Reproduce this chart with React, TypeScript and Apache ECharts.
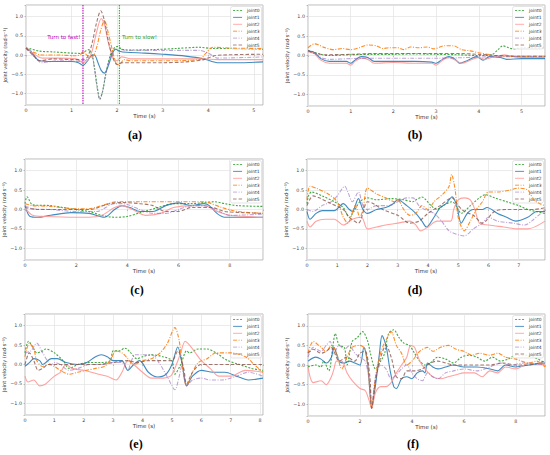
import React, { useEffect, useRef } from 'react';
import * as echarts from 'echarts';

type P = [number, number][];

const jointNames = ['joint0', 'joint1', 'joint2', 'joint3', 'joint4', 'joint5'];
const panelLabels = ['(a)', '(b)', '(c)', '(d)', '(e)', '(f)'];
const panelXMax = [5.2, 5.55, 9.3, 7.87, 8.1, 9.12];
const panelXStep = [1, 1, 2, 1, 1, 2];
const yExtent = [-1.3, 1.3];
const yTickValues = [-1.0, -0.5, 0.0, 0.5, 1.0];
const eventTimes = [1.25, 2.05];
const eventLabels = ['Turn to fast!', 'Turn to slow!'];
const eventLabelValue = 0.46;

// ---------- panel (a)
const a0: P = [[0,0.18],[0.1,0.16],[0.3,0.1],[0.6,0.08],[1.0,0.05],[1.2,0.04],[1.3,0.1],[1.38,0.14],[1.45,0.0],[1.5,-0.3],[1.56,-0.8],[1.62,-1.15],[1.68,-0.95],[1.75,-0.5],[1.85,0.0],[1.95,0.2],[2.02,0.22],[2.1,0.15],[2.3,0.13],[2.8,0.14],[3.3,0.17],[3.8,0.2],[4.1,0.17],[4.5,0.17],[5.2,0.15]];
const a1: P = [[0,0.18],[0.1,0.1],[0.3,-0.15],[0.6,-0.17],[1.0,-0.17],[1.15,-0.2],[1.25,-0.27],[1.35,-0.15],[1.45,0.0],[1.5,0.0],[1.58,-0.2],[1.65,-0.4],[1.72,-0.47],[1.8,-0.3],[1.9,0.05],[1.97,0.15],[2.05,0.1],[2.2,0.07],[2.6,0.05],[3.0,0.02],[3.5,-0.03],[3.9,-0.1],[4.2,-0.2],[4.6,-0.2],[5.2,-0.18]];
const a2: P = [[0,0.18],[0.15,0.05],[0.35,-0.08],[0.7,-0.08],[1.1,-0.1],[1.25,-0.2],[1.35,-0.15],[1.45,0.1],[1.55,0.6],[1.65,0.95],[1.72,0.8],[1.8,0.35],[1.9,-0.05],[2.0,-0.15],[2.1,-0.05],[2.3,-0.1],[3.0,-0.1],[3.9,-0.1],[4.2,-0.12],[5.2,-0.12]];
const a3: P = [[0,0.18],[0.15,0.08],[0.35,0.0],[0.7,0.0],[1.1,-0.02],[1.2,0.02],[1.26,0.1],[1.33,0.0],[1.45,-0.05],[1.55,0.2],[1.63,0.6],[1.72,0.9],[1.8,0.6],[1.9,0.1],[1.97,-0.2],[2.05,-0.25],[2.15,-0.12],[2.3,-0.15],[3.0,-0.15],[3.8,-0.12],[3.95,0.05],[4.1,0.2],[4.5,0.18],[5.2,0.17]];
const a4: P = [[0,0.18],[0.15,0.0],[0.35,-0.2],[0.7,-0.15],[1.0,-0.16],[1.2,-0.17],[1.3,-0.15],[1.4,-0.05],[1.45,-0.05],[1.5,-0.35],[1.56,-0.85],[1.62,-1.15],[1.68,-0.95],[1.75,-0.5],[1.85,-0.05],[1.95,0.15],[2.05,0.15],[2.2,0.12],[3.0,0.12],[3.8,0.12],[4.0,0.05],[4.2,-0.08],[5.2,-0.05]];
const a5: P = [[0,0.18],[0.15,0.0],[0.3,-0.15],[0.6,-0.1],[1.0,-0.12],[1.25,-0.12],[1.35,-0.05],[1.45,0.3],[1.55,0.85],[1.64,1.15],[1.72,0.9],[1.8,0.4],[1.9,-0.05],[2.0,-0.25],[2.1,-0.2],[2.3,-0.2],[3.0,-0.2],[3.5,-0.18],[3.9,-0.12],[4.1,-0.03],[4.3,0.0],[5.2,0.02]];

// ---------- panel (b)
const b0: P = [[0,0.12],[0.15,0.08],[0.3,0.03],[0.5,0.0],[1.0,0.02],[1.5,0.03],[2.0,0.03],[2.5,0.04],[3.0,0.03],[3.5,0.02],[4.0,0.0],[4.3,0.02],[4.45,0.15],[4.56,0.25],[4.7,0.2],[4.8,0.17],[5.0,0.2],[5.55,0.2]];
const b1: P = [[0,0.12],[0.15,0.08],[0.3,-0.08],[0.5,-0.15],[0.9,-0.15],[1.0,-0.2],[1.1,-0.12],[1.25,-0.03],[1.4,-0.05],[1.55,-0.15],[2.0,-0.15],[2.5,-0.15],[2.9,-0.17],[3.0,-0.2],[3.15,-0.1],[3.3,-0.03],[3.45,-0.1],[3.55,-0.2],[3.75,-0.12],[3.95,-0.03],[4.1,-0.12],[4.25,-0.03],[4.5,-0.05],[4.65,-0.1],[5.0,-0.08],[5.55,-0.08]];
const b2: P = [[0,0.1],[0.15,0.05],[0.3,-0.12],[0.5,-0.2],[0.9,-0.2],[1.0,-0.25],[1.1,-0.15],[1.25,-0.07],[1.4,-0.1],[1.55,-0.2],[2.0,-0.18],[2.5,-0.2],[2.9,-0.2],[3.0,-0.25],[3.15,-0.12],[3.3,-0.05],[3.45,-0.12],[3.6,-0.2],[3.8,-0.12],[4.0,-0.05],[4.15,-0.1],[4.3,-0.05],[4.45,-0.02],[4.6,0.02],[4.75,-0.02],[5.0,-0.05],[5.55,-0.05]];
const b3: P = [[0,0.2],[0.15,0.3],[0.4,0.2],[0.6,0.15],[0.8,0.18],[1.0,0.15],[1.2,0.2],[1.4,0.27],[1.6,0.25],[1.75,0.18],[1.9,0.2],[2.1,0.2],[2.25,0.15],[2.4,0.22],[2.6,0.2],[2.8,0.22],[2.95,0.17],[3.2,0.25],[3.4,0.25],[3.6,0.15],[3.8,0.12],[4.0,0.07],[4.2,0.03],[4.4,0.0],[5.0,-0.02],[5.55,-0.02]];
const b4: P = [[0,0.12],[0.15,0.05],[0.3,-0.05],[0.5,-0.1],[1.0,-0.08],[1.5,-0.07],[2.0,-0.07],[2.5,-0.07],[3.0,-0.07],[3.5,-0.06],[4.0,-0.04],[4.5,-0.03],[5.55,-0.03]];
const b5: P = [[0,0.12],[0.2,0.05],[0.4,0.02],[1.0,0.03],[1.5,0.05],[2.0,0.05],[3.0,0.05],[3.6,0.05],[4.0,0.03],[4.4,0.0],[5.0,-0.02],[5.55,-0.02]];

// ---------- panel (c)
const c0: P = [[0,0.15],[0.08,0.33],[0.3,0.12],[1.0,0.1],[1.5,0.05],[2.0,0.0],[2.5,-0.05],[3.0,-0.15],[3.5,-0.2],[4.0,-0.18],[4.5,-0.08],[5.2,0.05],[5.8,0.15],[6.5,0.15],[7.0,0.18],[7.4,0.2],[7.8,0.15],[8.3,0.1],[9.3,0.08]];
const c1: P = [[0,0.1],[0.2,-0.18],[0.5,-0.2],[1.0,-0.15],[1.8,-0.08],[2.5,-0.1],[3.1,-0.2],[3.5,0.0],[3.8,0.1],[4.1,0.05],[4.5,-0.05],[5.0,-0.05],[5.5,0.1],[6.0,0.17],[6.5,0.1],[7.0,0.15],[7.2,0.1],[7.5,-0.1],[7.8,-0.2],[8.5,-0.2],[9.3,-0.2]];
const c2: P = [[0,0.05],[0.3,-0.15],[0.8,-0.18],[2.0,-0.2],[2.5,-0.2],[3.0,-0.15],[3.5,0.05],[3.8,0.1],[4.2,0.0],[4.7,-0.15],[5.3,-0.1],[5.8,0.05],[6.5,0.1],[7.0,0.1],[7.5,-0.05],[8.0,-0.15],[9.3,-0.2]];
const c3: P = [[0,0.15],[0.3,0.1],[1.0,0.08],[2.0,0.02],[2.5,0.02],[3.0,0.1],[3.6,0.2],[4.5,0.2],[5.5,0.2],[6.0,0.2],[7.0,0.2],[7.2,0.17],[7.7,0.05],[8.3,-0.05],[9.3,-0.1]];
const c4: P = [[0,0.1],[0.3,0.02],[1.0,0.0],[2.0,-0.05],[2.8,-0.05],[3.5,0.15],[3.8,0.15],[4.5,0.0],[5.0,-0.1],[5.5,-0.1],[6.0,0.0],[6.5,0.1],[7.0,0.1],[7.6,-0.05],[8.0,-0.15],[9.3,-0.12]];
const c5: P = [[0,0.05],[0.5,0.0],[1.5,0.0],[2.5,0.0],[3.3,0.15],[3.8,0.18],[4.5,0.15],[5.0,0.1],[5.5,-0.05],[6.0,-0.05],[6.5,0.05],[7.3,0.05],[7.8,-0.05],[8.5,-0.08],[9.3,-0.1]];

// ---------- panel (d)
const d0: P = [[0,0.15],[0.05,0.35],[0.15,0.45],[0.5,0.35],[0.9,0.2],[1.2,0.05],[1.4,-0.2],[1.55,-0.05],[1.75,0.2],[2.0,0.3],[2.3,0.25],[2.8,0.28],[3.2,0.25],[3.5,0.2],[3.6,0.25],[3.8,0.32],[4.1,0.1],[4.3,0.0],[4.5,0.1],[4.8,0.2],[5.0,0.0],[5.1,-0.1],[5.4,0.1],[5.7,0.3],[5.9,0.38],[6.2,0.3],[6.6,0.2],[7.0,0.1],[7.3,0.0],[7.87,-0.1]];
const d1: P = [[0,-0.05],[0.1,-0.25],[0.3,-0.1],[0.5,-0.03],[0.9,-0.03],[1.2,0.15],[1.4,0.0],[1.5,-0.05],[1.7,0.28],[1.85,0.0],[2.0,-0.1],[2.3,0.0],[2.6,0.05],[2.85,0.15],[3.0,0.25],[3.3,0.1],[3.6,-0.1],[3.8,-0.3],[3.95,-0.45],[4.2,-0.2],[4.4,0.05],[4.6,0.15],[4.8,0.33],[4.95,0.1],[5.1,-0.35],[5.3,-0.1],[5.5,0.0],[5.8,0.0],[5.95,0.05],[6.3,-0.1],[6.6,-0.2],[6.9,-0.3],[7.3,-0.2],[7.6,-0.05],[7.87,-0.05]];
const d2: P = [[0,-0.3],[0.1,-0.45],[0.3,-0.3],[0.6,-0.25],[0.9,-0.25],[1.2,-0.4],[1.5,-0.25],[1.8,-0.2],[2.0,-0.5],[2.3,-0.45],[2.6,-0.4],[3.0,-0.35],[3.4,-0.3],[3.6,-0.4],[3.75,-0.55],[4.0,-0.45],[4.3,-0.3],[4.75,-0.3],[4.85,0.0],[5.0,0.25],[5.2,0.3],[5.4,0.25],[5.55,0.0],[5.7,-0.35],[6.0,-0.4],[6.5,-0.45],[7.0,-0.5],[7.3,-0.5],[7.87,-0.3]];
const d3: P = [[0,0.25],[0.1,0.6],[0.3,0.55],[0.7,0.4],[1.0,0.2],[1.2,-0.2],[1.35,-0.35],[1.6,0.1],[1.75,-0.2],[1.85,0.0],[2.0,0.55],[2.3,0.4],[2.6,0.3],[2.9,0.2],[3.0,0.25],[3.2,0.0],[3.4,-0.15],[3.6,-0.1],[3.8,0.1],[4.0,0.0],[4.2,0.2],[4.5,0.4],[4.7,0.6],[4.78,0.9],[4.9,0.5],[5.0,-0.2],[5.2,-0.55],[5.4,-0.3],[5.6,0.0],[5.8,0.2],[6.0,0.45],[6.3,0.45],[6.7,0.5],[7.0,0.55],[7.3,0.5],[7.5,0.25],[7.7,0.15],[7.87,0.1]];
const d4: P = [[0,0.0],[0.2,-0.05],[0.5,0.1],[0.8,0.2],[1.0,0.35],[1.25,0.6],[1.35,0.45],[1.5,0.2],[1.7,0.45],[1.85,0.1],[2.0,0.0],[2.3,0.1],[2.7,0.1],[3.0,0.2],[3.3,0.3],[3.5,0.3],[3.7,0.1],[3.9,0.0],[4.2,-0.1],[4.45,-0.3],[4.7,-0.55],[5.0,-0.65],[5.2,-0.68],[5.5,-0.5],[5.8,-0.35],[6.0,-0.2],[6.3,-0.3],[6.8,-0.35],[7.2,-0.4],[7.5,-0.25],[7.87,0.0]];
const d5: P = [[0,0.1],[0.2,0.35],[0.4,0.3],[0.8,0.15],[1.2,0.0],[1.4,-0.2],[1.7,-0.35],[2.0,0.2],[2.2,0.15],[2.5,0.0],[3.0,-0.15],[3.4,-0.35],[3.7,-0.3],[4.0,-0.1],[4.4,0.1],[4.8,0.3],[5.0,0.1],[5.2,-0.05],[5.5,-0.15],[5.8,-0.35],[6.2,-0.05],[6.6,0.0],[7.0,0.0],[7.5,0.0],[7.87,0.05]];

// ---------- panel (e)
const e0: P = [[0,0.3],[0.12,0.6],[0.3,0.4],[0.4,0.3],[0.6,0.35],[0.7,0.4],[1.0,0.3],[1.3,0.1],[1.5,-0.1],[1.8,0.0],[2.2,0.05],[2.6,0.05],[2.9,0.1],[3.0,0.35],[3.2,0.35],[3.4,0.42],[3.6,0.3],[3.8,0.15],[4.0,0.2],[4.3,0.25],[4.7,0.2],[5.0,0.1],[5.1,-0.25],[5.3,0.0],[5.5,0.35],[5.6,0.3],[5.9,0.4],[6.2,0.4],[6.5,0.3],[6.9,0.1],[7.3,0.0],[7.7,-0.1],[8.1,-0.15]];
const e1: P = [[0,-0.05],[0.15,0.05],[0.3,0.15],[0.5,0.1],[0.6,0.0],[0.9,0.15],[1.1,0.15],[1.4,0.05],[1.8,0.0],[2.1,0.05],[2.4,0.2],[2.6,0.25],[2.8,0.2],[3.0,0.1],[3.3,0.1],[3.5,-0.15],[3.7,0.0],[3.9,0.1],[4.2,-0.2],[4.5,-0.32],[4.8,-0.25],[5.0,0.0],[5.2,0.45],[5.35,0.0],[5.5,-0.55],[5.7,-0.3],[6.0,-0.15],[6.4,-0.2],[6.8,-0.2],[7.2,-0.3],[7.6,-0.4],[8.1,-0.35]];
const e2: P = [[0,-0.3],[0.1,-0.45],[0.3,-0.4],[0.5,-0.55],[0.7,-0.5],[1.0,-0.3],[1.2,-0.2],[1.4,0.0],[1.6,-0.1],[2.0,-0.15],[2.5,-0.25],[2.8,-0.3],[3.1,-0.4],[3.3,-0.2],[3.5,0.1],[3.7,0.0],[4.0,-0.2],[4.3,-0.35],[4.7,-0.35],[4.95,-0.3],[5.1,-0.1],[5.3,0.3],[5.45,0.6],[5.6,0.5],[5.8,0.3],[6.0,0.1],[6.3,-0.1],[6.6,-0.3],[7.0,-0.3],[7.5,-0.15],[8.1,-0.2]];
const e3: P = [[0,0.2],[0.15,0.55],[0.3,0.4],[0.4,0.1],[0.6,-0.05],[0.8,0.0],[1.0,-0.05],[1.2,-0.15],[1.5,-0.25],[1.8,-0.2],[2.1,-0.15],[2.4,-0.1],[2.7,-0.05],[2.9,0.1],[3.1,0.35],[3.3,0.3],[3.5,0.15],[3.7,0.0],[4.0,0.1],[4.3,0.15],[4.6,0.3],[4.85,0.55],[5.1,0.95],[5.25,0.6],[5.4,-0.3],[5.5,-0.55],[5.7,-0.2],[5.9,0.05],[6.2,0.15],[6.5,0.3],[7.0,0.3],[7.5,0.2],[7.8,0.0],[8.1,-0.2]];
const e4: P = [[0,0.3],[0.2,0.35],[0.4,0.55],[0.6,0.3],[0.9,0.0],[1.0,0.05],[1.2,0.0],[1.5,-0.15],[1.8,-0.1],[2.2,0.0],[2.6,0.0],[3.0,0.05],[3.3,0.05],[3.5,-0.15],[3.6,0.05],[3.75,0.25],[4.0,0.25],[4.3,0.25],[4.6,0.0],[4.9,-0.4],[5.1,-0.65],[5.25,-0.3],[5.35,0.0],[5.5,-0.55],[5.7,-0.4],[6.0,-0.35],[6.3,-0.4],[6.7,-0.4],[7.2,-0.3],[7.6,-0.2],[8.1,-0.3]];
const e5: P = [[0,0.0],[0.15,0.3],[0.3,0.1],[0.45,-0.15],[0.6,-0.1],[0.8,0.0],[1.2,0.0],[2.0,0.0],[2.5,0.0],[3.0,0.05],[3.5,0.1],[3.8,0.05],[4.2,0.1],[4.7,0.1],[5.0,0.1],[5.2,0.35],[5.4,-0.1],[5.5,-0.5],[5.7,-0.2],[6.0,0.0],[6.5,0.0],[7.0,0.0],[7.5,0.0],[8.1,0.0]];

// ---------- panel (f)
const f0: P = [[0,-0.05],[0.3,0.0],[0.5,-0.05],[0.6,0.1],[0.8,-0.15],[0.95,0.45],[1.05,0.8],[1.2,0.5],[1.4,0.45],[1.5,0.0],[1.7,0.6],[1.9,0.7],[2.1,0.85],[2.3,0.6],[2.4,0.3],[2.6,-0.1],[2.8,0.1],[2.95,0.3],[3.1,0.8],[3.3,0.9],[3.5,0.7],[3.7,0.55],[3.9,0.5],[4.1,0.3],[4.3,0.1],[4.5,0.0],[4.7,0.05],[5.0,0.2],[5.3,0.15],[5.6,0.05],[5.9,0.2],[6.2,0.25],[6.5,0.2],[6.8,0.1],[7.1,0.2],[7.4,0.1],[7.7,0.15],[8.0,0.25],[8.4,0.25],[8.7,0.2],[9.12,0.05]];
const f1: P = [[0,0.1],[0.3,0.2],[0.5,0.15],[0.7,0.05],[0.9,0.2],[1.0,0.45],[1.2,0.1],[1.4,0.05],[1.6,0.1],[1.8,0.05],[2.0,0.0],[2.15,0.45],[2.3,0.0],[2.45,-1.1],[2.6,-0.5],[2.75,0.3],[2.85,0.75],[3.0,0.5],[3.15,-0.1],[3.3,-0.55],[3.4,-0.6],[3.6,-0.35],[3.8,-0.3],[4.0,-0.35],[4.2,-0.2],[4.4,-0.15],[4.5,-0.2],[4.6,0.05],[4.8,-0.05],[5.0,-0.1],[5.3,-0.05],[5.6,0.0],[6.0,-0.05],[6.5,-0.05],[7.0,-0.1],[7.3,-0.15],[7.6,0.0],[8.0,-0.05],[8.5,0.0],[9.12,0.05]];
const f2: P = [[0,-0.05],[0.2,-0.45],[0.5,-0.4],[0.7,-0.5],[0.9,-0.3],[1.0,-0.1],[1.1,0.1],[1.3,0.1],[1.5,-0.2],[1.7,-0.4],[2.0,-0.6],[2.2,-0.65],[2.35,-0.9],[2.45,-1.1],[2.6,-0.7],[2.8,-0.55],[3.0,-0.55],[3.2,-0.45],[3.4,-0.2],[3.6,0.0],[3.8,0.2],[3.95,0.5],[4.1,0.45],[4.3,0.1],[4.5,-0.1],[4.8,-0.3],[5.1,-0.35],[5.4,-0.3],[5.7,-0.25],[6.0,-0.2],[6.4,-0.2],[6.7,-0.3],[7.0,-0.15],[7.3,-0.2],[7.6,-0.05],[8.0,-0.1],[8.5,0.05],[9.12,0.0]];
const f3: P = [[0,0.3],[0.2,0.6],[0.5,0.45],[0.7,0.35],[0.9,0.5],[1.1,0.3],[1.3,-0.1],[1.5,0.2],[1.7,0.45],[2.0,0.5],[2.2,0.4],[2.35,-0.4],[2.45,-1.1],[2.6,-0.3],[2.75,0.2],[2.9,0.5],[3.1,0.75],[3.2,0.85],[3.4,0.5],[3.6,0.3],[3.8,0.0],[4.0,0.1],[4.3,0.35],[4.6,0.45],[4.8,0.35],[5.1,0.45],[5.4,0.5],[5.7,0.4],[6.0,0.35],[6.3,0.25],[6.6,0.3],[7.0,0.25],[7.3,0.3],[7.6,0.2],[8.0,0.15],[8.5,0.05],[8.8,0.1],[9.12,-0.05]];
const f4: P = [[0,0.2],[0.2,0.45],[0.5,0.35],[0.7,0.5],[0.85,0.6],[1.0,0.3],[1.2,0.5],[1.4,0.4],[1.6,0.5],[1.8,0.3],[2.0,0.2],[2.2,0.1],[2.38,-0.5],[2.45,-1.05],[2.6,-0.3],[2.8,0.0],[3.0,-0.1],[3.2,-0.35],[3.4,-0.25],[3.6,-0.1],[3.8,0.0],[4.0,-0.2],[4.2,-0.35],[4.4,-0.4],[4.6,-0.2],[4.8,-0.3],[5.0,-0.35],[5.3,-0.2],[5.6,-0.15],[6.0,-0.1],[6.5,-0.15],[7.0,-0.05],[7.4,0.05],[7.8,0.0],[8.3,0.05],[9.12,0.0]];
const f5: P = [[0,0.3],[0.2,0.4],[0.5,0.3],[0.7,0.35],[0.9,0.45],[1.2,0.1],[1.5,0.2],[1.8,0.1],[2.0,0.3],[2.2,0.35],[2.38,-0.3],[2.45,-1.1],[2.6,-0.4],[2.8,0.2],[3.0,0.5],[3.2,0.2],[3.4,-0.3],[3.6,-0.35],[3.8,-0.15],[4.1,-0.15],[4.4,-0.1],[4.7,0.05],[5.0,0.1],[5.3,0.05],[5.6,0.0],[6.0,0.0],[6.5,0.0],[7.0,0.0],[7.5,0.05],[8.0,0.0],[8.5,0.0],[9.12,0.1]];

const panelData: P[][] = [
  [a0, a1, a2, a3, a4, a5],
  [b0, b1, b2, b3, b4, b5],
  [c0, c1, c2, c3, c4, c5],
  [d0, d1, d2, d3, d4, d5],
  [e0, e1, e2, e3, e4, e5],
  [f0, f1, f2, f3, f4, f5],
];

// ---------- styling (not data)
const grids = [
  { left: 26, top: 5, width: 237, height: 100 },
  { left: 308, top: 5, width: 237, height: 101 },
  { left: 25, top: 159, width: 238, height: 101 },
  { left: 307, top: 159, width: 238, height: 101 },
  { left: 25, top: 314, width: 238, height: 101 },
  { left: 308, top: 314, width: 237, height: 102 },
];
const labelPos = [
  [135, 135], [415, 135], [137, 290], [415, 290], [136, 444], [413, 444],
];
const jointColors = ['#2ca02c', '#1f77b4', '#ff9896', '#ff7f0e', '#9467bd', '#8c564b'];
const jointDash: any[] = [[2, 1.5], 'solid', 'solid', [4, 1.5, 1, 1.5], [4, 1.5, 1, 1.5], [3.5, 2]];
const jointOpacity = [0.9, 0.85, 0.9, 0.9, 0.6, 0.8];
const eventColors = ['#bf00bf', '#2ca02c'];
const eventLineColors = ['#c020c0', '#33bb33'];
const FONT = '"DejaVu Sans", sans-serif';

const yFmt = (v: number) => {
  const hit = yTickValues.find((t) => Math.abs(t - v) < 1e-6);
  if (hit === undefined) return '';
  return (hit === 0 ? '0.0' : hit.toFixed(1)).replace('-', '\u2212');
};
const xFmt = (v: number) => (Math.abs(v - Math.round(v)) < 1e-6 ? String(Math.round(v)) : '');

function panelLabelGraphics() {
  return panelLabels.map((t, i) => ({
    type: 'text',
    id: 'label' + i,
    x: labelPos[i][0],
    y: labelPos[i][1],
    style: {
      text: t,
      fill: '#000',
      font: 'bold 12px "Liberation Serif", serif',
      textAlign: 'center',
      textVerticalAlign: 'middle',
    },
  }));
}

function buildOption() {
  const grid = grids.map((g) => ({
    ...g,
    show: true,
    borderColor: '#a8a8a8',
    borderWidth: 0.8,
    backgroundColor: 'transparent',
    outerBoundsMode: 'none',
    containLabel: false,
  }));
  const xAxis = grids.map((_, i) => ({
    type: 'value',
    gridIndex: i,
    min: 0,
    max: panelXMax[i],
    interval: panelXStep[i],
    name: 'Time (s)',
    nameLocation: 'middle',
    nameGap: 7.5,
    nameTextStyle: { fontSize: 5.5, color: '#333', fontFamily: FONT },
    axisLine: { show: false },
    axisTick: { show: true, length: 1.5, lineStyle: { color: '#999', width: 0.6 } },
    axisLabel: { fontSize: 4.8, color: '#444', margin: 2.5, fontFamily: FONT, formatter: xFmt },
    splitLine: { show: true, lineStyle: { color: '#e3e3e3', width: 0.7 } },
  }));
  const yAxis = grids.map((_, i) => ({
    type: 'value',
    gridIndex: i,
    min: yExtent[0],
    max: yExtent[1],
    splitNumber: 5,
    name: 'Joint velocity (rad\u00b7s\u207b\u00b9)',
    nameLocation: 'middle',
    nameRotate: 90,
    nameGap: 14,
    nameTextStyle: { fontSize: 5, color: '#333', fontFamily: FONT },
    axisLine: { show: false },
    axisTick: { show: true, length: 1.5, lineStyle: { color: '#999', width: 0.6 } },
    axisLabel: { fontSize: 4.8, color: '#444', margin: 3, fontFamily: FONT, formatter: yFmt },
    splitLine: { show: true, lineStyle: { color: '#e3e3e3', width: 0.7 } },
  }));
  const series: any[] = [];
  panelData.forEach((joints, p) => {
    joints.forEach((data, j) => {
      series.push({
        type: 'line',
        name: jointNames[j],
        xAxisIndex: p,
        yAxisIndex: p,
        data,
        symbol: 'none',
        smooth: 0.3,
        silent: true,
        lineStyle: { color: jointColors[j], width: 1.1, type: jointDash[j], opacity: jointOpacity[j] },
        itemStyle: { color: jointColors[j], opacity: jointOpacity[j] },
        z: 3 + j,
      });
    });
  });
  const legend = grids.map((g) => ({
    data: jointNames,
    orient: 'vertical',
    right: 550 - (g.left + g.width) + 1.5,
    top: g.top + 1.5,
    itemWidth: 9,
    itemHeight: 5,
    itemGap: 1.9,
    itemTextGap: 3,
    padding: [1.5, 2, 1.5, 2],
    backgroundColor: 'rgba(255,255,255,0.85)',
    borderColor: '#d8d8d8',
    borderWidth: 0.7,
    borderRadius: 2,
    selectedMode: false,
    itemStyle: { opacity: 0 },
    lineStyle: { width: 0.9 },
    textStyle: { fontSize: 4.4, color: '#333', fontFamily: FONT, lineHeight: 5 },
  }));
  return { animation: false, backgroundColor: '#fff', grid, xAxis, yAxis, series, legend, graphic: panelLabelGraphics() };
}

// event lines and their texts, placed through panel (a)'s own axes
function eventGraphics(chart: echarts.ECharts) {
  const out: any[] = [];
  const yTop = chart.convertToPixel({ yAxisIndex: 0 } as any, yExtent[1]) as number;
  const yBot = chart.convertToPixel({ yAxisIndex: 0 } as any, yExtent[0]) as number;
  const yText = chart.convertToPixel({ yAxisIndex: 0 } as any, eventLabelValue) as number;
  eventTimes.forEach((t, k) => {
    const x = chart.convertToPixel({ xAxisIndex: 0 } as any, t) as number;
    out.push({
      type: 'line',
      id: 'evline' + k,
      z: 50,
      silent: true,
      shape: { x1: x, y1: yTop, x2: x, y2: yBot },
      style: { stroke: eventLineColors[k], lineWidth: 1.2, lineDash: [1.5, 1] },
    });
    out.push({
      type: 'text',
      id: 'evtext' + k,
      z: 50,
      silent: true,
      x: k === 0 ? x - 2.5 : x + 2.5,
      y: yText,
      style: {
        text: eventLabels[k],
        fill: eventColors[k],
        font: '5.5px "DejaVu Sans", sans-serif',
        textAlign: k === 0 ? 'right' : 'left',
        textVerticalAlign: 'middle',
      },
    });
  });
  return out;
}

export default function App() {
  const ref = useRef<HTMLDivElement>(null);
  useEffect(() => {
    document.body.style.margin = '0';
    const chart = echarts.init(ref.current!, null, { renderer: 'svg' });
    chart.setOption(buildOption() as any);
    chart.setOption({ graphic: [...panelLabelGraphics(), ...eventGraphics(chart)] } as any);
    return () => chart.dispose();
  }, []);
  return <div ref={ref} style={{ width: 550, height: 455 }} />;
}
